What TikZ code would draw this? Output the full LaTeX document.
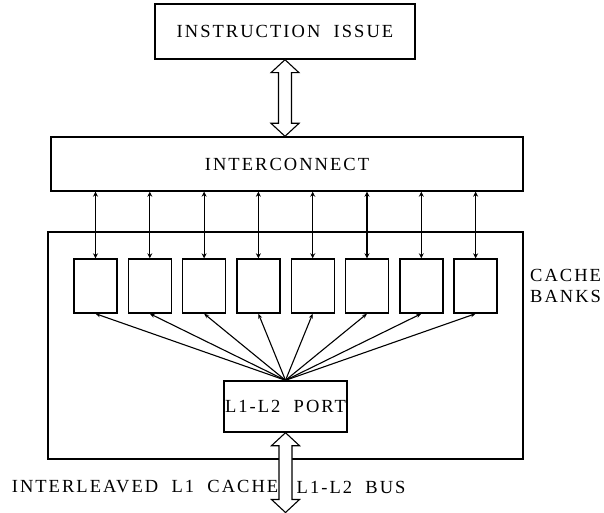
\documentclass[tikz,border=0pt]{standalone}
\usepackage{fontspec}
\setmainfont{Liberation Serif}[LetterSpace=11, WordSpace=2]
\usetikzlibrary{positioning}
\usetikzlibrary{calc}
\usetikzlibrary{arrows.meta}

% hollow two-headed bus arrow, drawn from top tip #1 down to bottom tip #2
\newcommand{\busarrow}[2]{%
  \draw[bus] (#1) -- ++(14,13) -- ++(-7.5,0) -- ($(#2)+(6.5,-13)$) -- ++(7.5,0)
    -- (#2) -- ++(-14,-13) -- ++(7.5,0) -- ($(#1)+(-6.5,13)$) -- ++(-7.5,0) -- cycle;}

\begin{document}
\begin{tikzpicture}[x=1pt, y=-1pt,
  blk/.style={draw, line width=1.4pt, inner sep=0pt, font=\fontsize{18.5}{20}\selectfont},
  lbl/.style={inner sep=0pt, font=\fontsize{18.5}{21}\selectfont},
  link/.style={line width=1.1pt, {Stealth[length=5pt,width=5pt]}-{Stealth[length=5pt,width=5pt]}},
  fan/.style={line width=1.1pt, -{Stealth[length=5pt,width=4pt]}},
  bus/.style={draw, line width=1.1pt, fill=white}]

\useasboundingbox (0,0) rectangle (604,513);

\def\bankgap{54.3}

%---------------------------------------
% Top: issue and interconnect
%---------------------------------------
\node[blk, minimum width=260pt, minimum height=55pt] (issue) at (285,31.5) {INSTRUCTION ISSUE};
\node[blk, minimum width=472pt, minimum height=54pt] (ic) at (287,164) {INTERCONNECT};

\busarrow{issue.south}{issue.south |- ic.north}

%---------------------------------------
% Interleaved L1 cache
%---------------------------------------
\node[blk, minimum width=475pt, minimum height=227pt] (cache) at (285.5,345.5) {};

\foreach \i in {1,...,8}
  \node[blk, minimum width=43pt, minimum height=54pt] (bank\i) at ({95.5+(\i-1)*\bankgap},286) {};

\node[lbl, align=left, anchor=west] (banks) at (530,286) {CACHE\\BANKS};

\node[blk, minimum width=123pt, minimum height=51pt] (port) at (285.5,406.5) {L1-L2 PORT};

% banks <-> interconnect
\foreach \i in {1,...,8}
  \draw[link] (ic.south -| bank\i.north) -- (bank\i.north);

% port fans out to every bank
\foreach \i in {1,...,8}
  \draw[fan] (port.north) -- (bank\i.south);

%---------------------------------------
% L1-L2 bus
%---------------------------------------
\coordinate (busend) at (285.5,512.5);
\coordinate (busmid) at (285.5,487);
\busarrow{port.south}{busend}

\node[lbl, left=7pt of busmid] (cachelbl) {INTERLEAVED L1 CACHE};
\node[lbl, right=11pt of busmid] (buslbl) {L1-L2 BUS};

\end{tikzpicture}
\end{document}
